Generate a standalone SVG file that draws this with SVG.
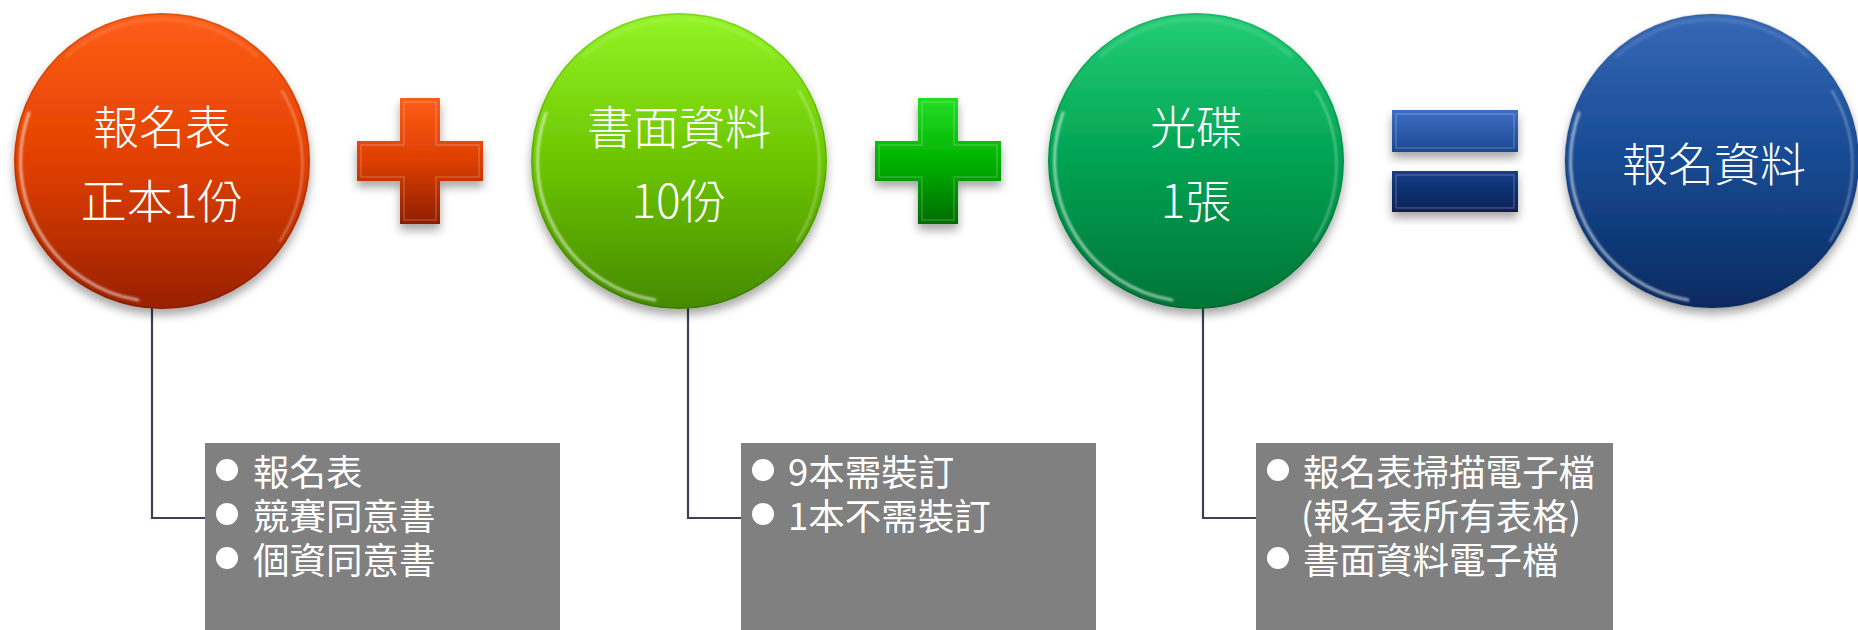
<svg xmlns="http://www.w3.org/2000/svg" xmlns:xlink="http://www.w3.org/1999/xlink" width="1858" height="630" viewBox="0 0 1858 630">
<style>
.ct{font-family:"Noto Sans CJK TC","Noto Sans CJK SC",sans-serif;font-size:46px;fill:#fff;text-anchor:middle;dominant-baseline:central;font-weight:300}
.bt{font-family:"Noto Sans CJK TC","Noto Sans CJK SC",sans-serif;font-size:36.5px;fill:#fff;dominant-baseline:central}
.box{fill:#808080}
.bul{fill:#fff}
.conn{fill:none;stroke:#3B3F57;stroke-width:2.2}
.bevel{fill:none;stroke:#fff;stroke-opacity:0.2;stroke-width:1.5}
</style>
<defs>
<linearGradient id="gOrange" x1="0" y1="0" x2="0" y2="1">
<stop offset="0" stop-color="#FF5E16"/><stop offset="0.5" stop-color="#E14000"/><stop offset="1" stop-color="#982000"/>
</linearGradient>
<linearGradient id="gLime" x1="0" y1="0" x2="0" y2="1">
<stop offset="0" stop-color="#93F526"/><stop offset="0.5" stop-color="#6CC500"/><stop offset="1" stop-color="#458A00"/>
</linearGradient>
<linearGradient id="gGreen" x1="0" y1="0" x2="0" y2="1">
<stop offset="0" stop-color="#24CE76"/><stop offset="0.5" stop-color="#00A252"/><stop offset="1" stop-color="#007436"/>
</linearGradient>
<linearGradient id="gBlue" x1="0" y1="0" x2="0" y2="1">
<stop offset="0" stop-color="#3668B6"/><stop offset="0.5" stop-color="#164A92"/><stop offset="1" stop-color="#0A2A60"/>
</linearGradient>
<linearGradient id="gPlusO" x1="0" y1="0" x2="0" y2="1">
<stop offset="0" stop-color="#FF5E16"/><stop offset="0.5" stop-color="#DC3E02"/><stop offset="1" stop-color="#8E1E00"/>
</linearGradient>
<linearGradient id="gPlusG" x1="0" y1="0" x2="0" y2="1">
<stop offset="0" stop-color="#24DE24"/><stop offset="0.5" stop-color="#00B200"/><stop offset="1" stop-color="#006C00"/>
</linearGradient>
<linearGradient id="gEq1" x1="0" y1="0" x2="0" y2="1">
<stop offset="0" stop-color="#3D6EC4"/><stop offset="1" stop-color="#1C4892"/>
</linearGradient>
<linearGradient id="gEq2" x1="0" y1="0" x2="0" y2="1">
<stop offset="0" stop-color="#163E88"/><stop offset="1" stop-color="#062256"/>
</linearGradient>
<filter id="shadow" x="-20%" y="-20%" width="140%" height="150%">
<feDropShadow dx="0" dy="6" stdDeviation="5" flood-color="#000" flood-opacity="0.35"/>
</filter>
<filter id="soft" x="-20%" y="-20%" width="140%" height="140%">
<feGaussianBlur stdDeviation="1.2"/>
</filter>
<g id="gloss">
<path d="M-24,139 A141,141 0 0 1 -133,-48" fill="none" stroke="#fff" stroke-opacity="0.55" stroke-width="3" stroke-linecap="round" filter="url(#soft)"/>
<path d="M120,-70 A142,142 0 0 1 118,80" fill="none" stroke="#fff" stroke-opacity="0.35" stroke-width="2" stroke-linecap="round" filter="url(#soft)"/>
<path d="M-95,-105 A141,141 0 0 1 95,-105" fill="none" stroke="#fff" stroke-opacity="0.1" stroke-width="4" stroke-linecap="round" filter="url(#soft)"/>
<circle r="147" fill="none" stroke="#000" stroke-opacity="0.12" stroke-width="1.5"/>
</g>
<path id="cross" d="M-20,-63 H20 V-20 H63 V20 H20 V63 H-20 V20 H-63 V-20 H-20 Z"/>
<path id="crossIn" d="M-16,-59 H16 V-16 H59 V16 H16 V59 H-16 V16 H-59 V-16 H-16 Z"/>
</defs>
<rect width="1858" height="630" fill="#fff"/>

<g id="connectors">
<path class="conn" d="M152,300 V518 H206"/>
<path class="conn" d="M688,300 V518 H742"/>
<path class="conn" d="M1203,300 V518 H1257"/>
</g>

<g id="node-form">
<circle cx="162" cy="161" r="148" fill="url(#gOrange)" filter="url(#shadow)"/>
<use href="#gloss" x="162" y="161"/>
<text class="ct" x="162" y="124">報名表</text>
<text class="ct" x="162" y="198">正本1份</text>
</g>

<g id="plus1">
<use href="#cross" x="420" y="161" fill="url(#gPlusO)" filter="url(#shadow)"/>
<use href="#crossIn" x="420" y="161" class="bevel"/>
</g>

<g id="node-docs">
<circle cx="679" cy="161" r="148" fill="url(#gLime)" filter="url(#shadow)"/>
<use href="#gloss" x="679" y="161"/>
<text class="ct" x="679" y="124">書面資料</text>
<text class="ct" x="679" y="198">10份</text>
</g>

<g id="plus2">
<use href="#cross" x="938" y="161" fill="url(#gPlusG)" filter="url(#shadow)"/>
<use href="#crossIn" x="938" y="161" class="bevel"/>
</g>

<g id="node-disc">
<circle cx="1196" cy="161" r="148" fill="url(#gGreen)" filter="url(#shadow)"/>
<use href="#gloss" x="1196" y="161"/>
<text class="ct" x="1196" y="124">光碟</text>
<text class="ct" x="1196" y="198">1張</text>
</g>

<g id="equals">
<rect x="1392" y="110" width="126" height="42" fill="url(#gEq1)" filter="url(#shadow)"/>
<rect x="1396" y="114" width="118" height="34" class="bevel"/>
<rect x="1392" y="171" width="126" height="41" fill="url(#gEq2)" filter="url(#shadow)"/>
<rect x="1396" y="175" width="118" height="33" class="bevel"/>
</g>

<g id="node-result">
<circle cx="1712" cy="161" r="147" fill="url(#gBlue)" filter="url(#shadow)"/>
<use href="#gloss" x="1712" y="161"/>
<text class="ct" x="1714" y="161">報名資料</text>
</g>

<g id="box-form">
<rect class="box" x="205" y="443" width="355" height="187"/>
<circle class="bul" cx="227" cy="470" r="11"/>
<circle class="bul" cx="227" cy="514" r="11"/>
<circle class="bul" cx="227" cy="558" r="11"/>
<text class="bt"><tspan x="253" y="470">報名表</tspan><tspan x="253" y="514">競賽同意書</tspan><tspan x="253" y="558">個資同意書</tspan></text>
</g>

<g id="box-docs">
<rect class="box" x="741" y="443" width="355" height="187"/>
<circle class="bul" cx="763" cy="470" r="11"/>
<circle class="bul" cx="763" cy="514" r="11"/>
<text class="bt"><tspan x="788" y="470">9本需裝訂</tspan><tspan x="788" y="514">1本不需裝訂</tspan></text>
</g>

<g id="box-disc">
<rect class="box" x="1256" y="443" width="357" height="187"/>
<circle class="bul" cx="1278" cy="470" r="11"/>
<circle class="bul" cx="1278" cy="558" r="11"/>
<text class="bt"><tspan x="1303" y="470">報名表掃描電子檔</tspan><tspan x="1301" y="514">(報名表所有表格)</tspan><tspan x="1303" y="558">書面資料電子檔</tspan></text>
</g>
</svg>
